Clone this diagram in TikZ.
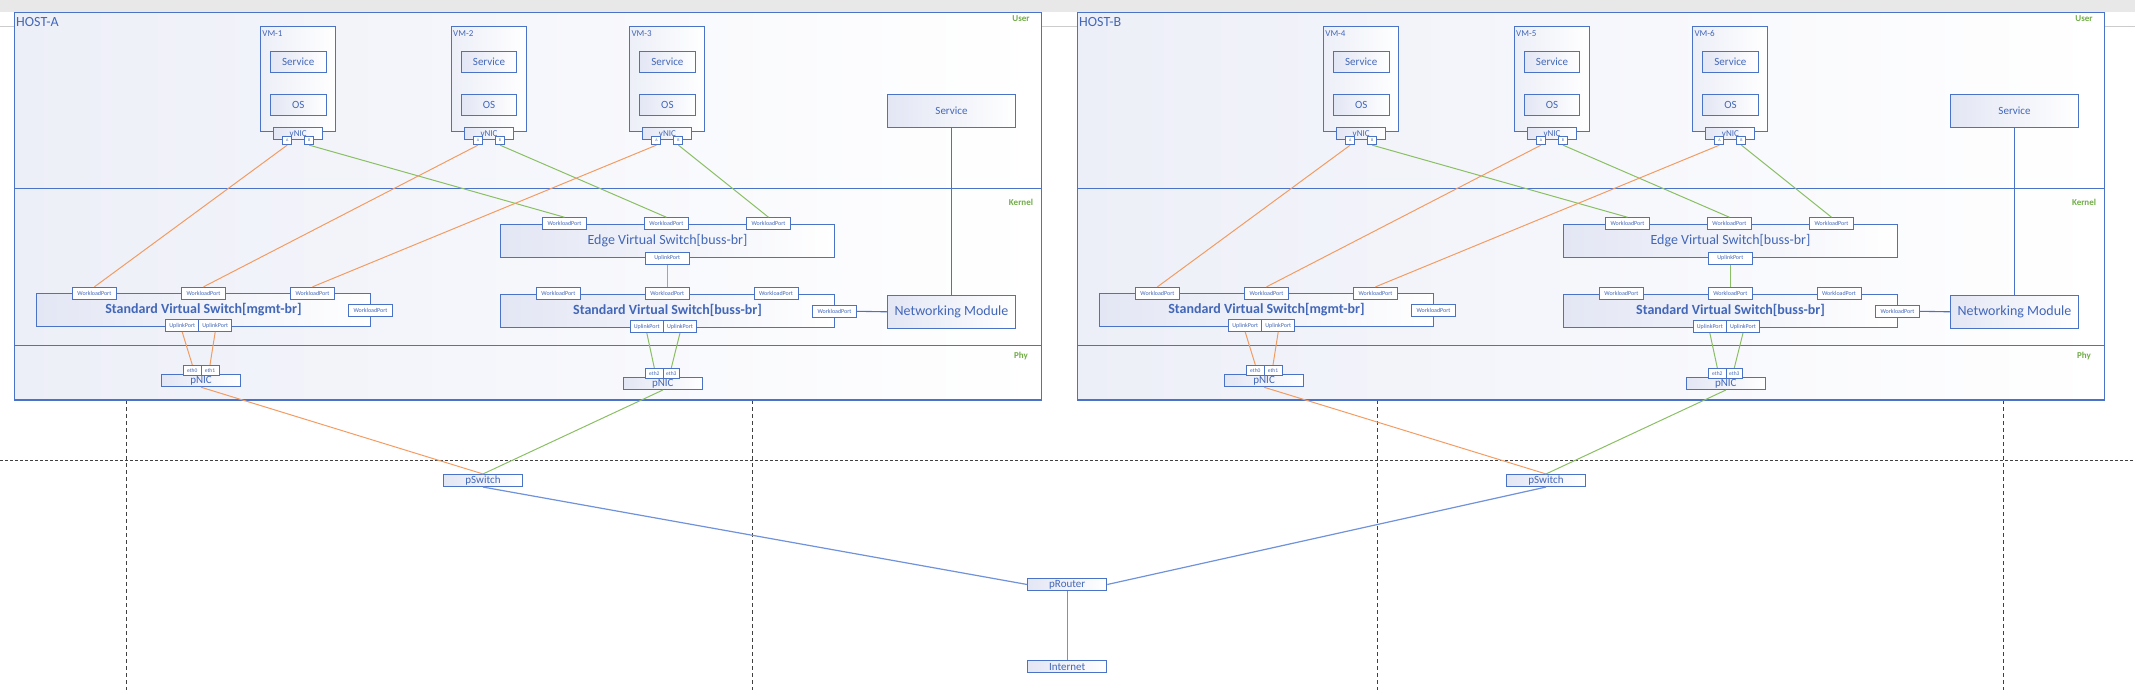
\documentclass[tikz,border=0pt]{standalone}
\usepackage{fontspec}
\setmainfont{Carlito}
\usepackage{xcolor}
\definecolor{hostblue}{HTML}{4A72C6}
\definecolor{txtblue}{HTML}{4267B8}
\definecolor{boxfill}{HTML}{E3E6F4}
\definecolor{hostfill}{HTML}{EDEFF8}
\definecolor{mgmtline}{HTML}{F39C62}
\definecolor{bussline}{HTML}{8ABF63}
\definecolor{netline}{HTML}{7092DA}
\definecolor{layergreen}{HTML}{70AD47}

\begin{document}
\begin{tikzpicture}[x=1pt, y=-1pt, font=\fontsize{11}{13}\selectfont,
  box/.style={draw=hostblue, line width=1.1pt, inner sep=0pt, text=txtblue, left color=boxfill, right color=white},
  vmbox/.style={box, left color=hostfill, minimum width=75, minimum height=105.4},
  inbox/.style={box, minimum width=55.8, minimum height=20.6},
  swbox/.style={box, minimum width=334, minimum height=33, font=\fontsize{14}{16}\selectfont},
  port/.style={draw=hostblue, line width=0.9pt, fill=white, inner sep=0pt, text=txtblue, minimum width=44, minimum height=12, font=\fontsize{6}{7}\selectfont},
  uplink/.style={port, minimum width=33},
  ethport/.style={port, minimum width=18, minimum height=10, font=\fontsize{5.5}{6}\selectfont},
  abport/.style={port, minimum width=9, minimum height=8.4, font=\fontsize{4}{4}\selectfont},
  nic/.style={box, minimum width=79, minimum height=12},
  layername/.style={text=layergreen, font=\bfseries\fontsize{9}{10}\selectfont, inner sep=0pt},
  mgmt/.style={draw=mgmtline, line width=1pt},
  buss/.style={draw=bussline, line width=1pt},
  net/.style={draw=netline, line width=1.2pt},
  splitline/.style={draw=black!75, line width=0.8pt, dash pattern=on 4pt off 3pt}]

  \useasboundingbox (0,0) rectangle (2135,690);
  \fill[black!9] (0,0) rectangle (2135,12);
  \draw[black!20, line width=0.8pt] (0,26) -- (2135,26);

  \foreach \x in {126.3,752.5,1377.4,2003.4} {
    \draw[splitline] (\x,400) -- (\x,690);
  }
  \draw[splitline, dash pattern=on 3pt off 2pt] (0,460.3) -- (2135,460.3);

  \foreach \h/\dx/\n in {A/0/0,B/1063/3} {
    \begin{scope}[xshift=\dx]
      \node[box, left color=hostfill, minimum width=1027, minimum height=387.3] (\h-host) at (528,206.35) {};
      \node[anchor=base west, inner sep=0pt, text=txtblue, font=\fontsize{14}{16}\selectfont] (\h-name) at (16,26.5) {HOST-\h};
      \draw[hostblue, line width=1.1pt] (14.5,188.3) -- (1041.5,188.3) (14.5,345.7) -- (1041.5,345.7);
      \node[layername] (\h-user) at (1021,19) {User};
      \node[layername] (\h-kernel) at (1021,202.3) {Kernel};
      \node[layername] (\h-phy) at (1021,356) {Phy};

      % virtual machines
      \foreach \v/\vx in {1/298.2,2/489,3/667.4} {
        \pgfmathtruncatemacro\vm{\v+\n}
        \node[vmbox] (\h-vm\v) at (\vx,79) {};
        \node[anchor=west, inner sep=0pt, text=txtblue, font=\fontsize{9}{10}\selectfont] (\h-vml\v) at (\vx-36,33.5) {VM-\vm};
        \node[inbox] (\h-svc\v) at (\vx,62) {Service};
        \node[inbox] (\h-os\v) at (\vx,105) {OS};
        \node[box, minimum width=49, minimum height=12, font=\fontsize{9}{10}\selectfont] (\h-vnic\v) at (\vx,133.3) {vNIC};
        \node[abport] (\h-a\v) at (\vx-11,140.5) {A};
        \node[abport] (\h-b\v) at (\vx+11,140.5) {B};
      }

      % user service and networking module
      \node[box, minimum width=128, minimum height=33] (\h-service) at (951.5,111.2) {Service};
      \node[swbox, minimum width=128.3] (\h-netmod) at (951.5,311.8) {Networking Module};

      % switches
      \node[swbox, font=\bfseries\fontsize{14}{16}\selectfont] (\h-mgmt) at (203.5,309.8) {Standard Virtual Switch[mgmt-br]};
      \node[swbox] (\h-edge) at (667.5,240.8) {Edge Virtual Switch[buss-br]};
      \node[swbox, font=\bfseries\fontsize{14}{16}\selectfont] (\h-buss) at (667.5,310.8) {Standard Virtual Switch[buss-br]};

      \foreach \p/\px in {1/94.4,2/203.5,3/312.5} {
        \node[port] (\h-mw\p) at (\px,293.3) {WorkloadPort};
      }
      \node[port] (\h-mw4) at (370.5,310.7) {WorkloadPort};
      \foreach \p/\px in {1/564.5,2/666.4,3/768.5} {
        \node[port] (\h-ew\p) at (\px,223.7) {WorkloadPort};
      }
      \node[port] (\h-eup) at (667.3,258.3) {UplinkPort};
      \foreach \p/\px in {1/558.4,2/667.3,3/776} {
        \node[port] (\h-bw\p) at (\px,293.5) {WorkloadPort};
      }
      \node[port] (\h-bw4) at (834.5,311.3) {WorkloadPort};
      \node[uplink] (\h-mup1) at (182.2,325.5) {UplinkPort};
      \node[uplink] (\h-mup2) at (215.2,325.5) {UplinkPort};
      \node[uplink] (\h-bup1) at (646.8,326.5) {UplinkPort};
      \node[uplink] (\h-bup2) at (680,326.5) {UplinkPort};

      % physical nics
      \node[nic] (\h-pnic1) at (201.1,380.7) {pNIC};
      \node[ethport] (\h-eth0) at (192.3,370.3) {eth0};
      \node[ethport] (\h-eth1) at (210,370.3) {eth1};
      \node[nic] (\h-pnic2) at (662.8,383.5) {pNIC};
      \node[ethport] (\h-eth2) at (654.3,373.3) {eth2};
      \node[ethport, minimum width=16] (\h-eth3) at (671.3,373.3) {eth3};
      \node[nic] (\h-psw) at (483,480.5) {pSwitch};

      % connectors
      \foreach \v in {1,2,3} {
        \draw[mgmt] (\h-a\v.south) -- (\h-mw\v.north);
        \draw[buss] (\h-b\v.south) -- (\h-ew\v.north);
      }
      \draw[buss] (\h-eup.south) -- (\h-bw2.north);
      \draw[mgmt] (\h-mup1.south) -- (\h-eth0.north);
      \draw[mgmt] (\h-mup2.south) -- (\h-eth1.north);
      \draw[buss] (\h-bup1.south) -- (\h-eth2.north);
      \draw[buss] (\h-bup2.south) -- (\h-eth3.north);
      \draw[mgmt] (\h-pnic1.south) -- (\h-psw.north);
      \draw[buss] (\h-pnic2.south) -- (\h-psw.north);
      \draw[hostblue, line width=1.1pt] (\h-bw4.east) -- (\h-netmod.west);
      \draw[hostblue, line width=1.1pt] (\h-service.south) -- (\h-netmod.north);
    \end{scope}
  }

  \node[nic] (router) at (1067.2,584.5) {pRouter};
  \node[nic] (internet) at (1067.2,666.7) {Internet};
  \draw[net] (A-psw.south) -- (router.west);
  \draw[net] (B-psw.south) -- (router.east);
  \draw[netline, line width=0.8pt] (router.south) -- (internet.north);
\end{tikzpicture}
\end{document}
